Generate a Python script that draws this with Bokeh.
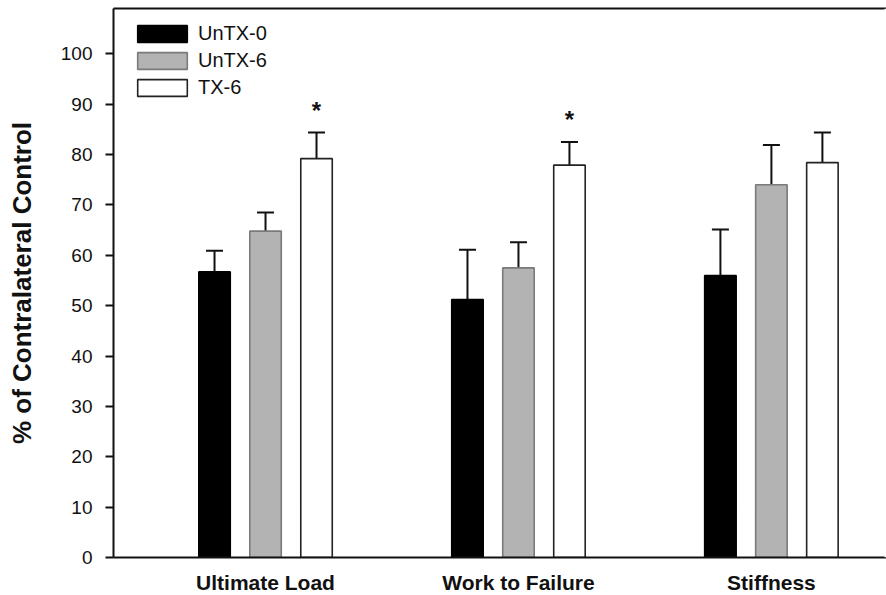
from bokeh.plotting import figure
from bokeh.models import (ColumnDataSource, FixedTicker, Range1d, Whisker, TeeHead,
                          Legend, LegendItem, LinearAxis, Span)
from bokeh.transform import dodge
from bokeh.core.properties import value
from bokeh.embed import file_html
from bokeh.resources import INLINE

# ---- data ----
categories = ["Ultimate Load", "Work to Failure", "Stiffness"]
groups = ["UnTX-0", "UnTX-6", "TX-6"]
untx0_mean = [56.7, 51.2, 56.0]
untx0_sd = [4.2, 9.9, 9.1]
untx6_mean = [64.8, 57.5, 74.0]
untx6_sd = [3.7, 5.1, 7.9]
tx6_mean = [79.2, 77.9, 78.4]
tx6_sd = [5.2, 4.6, 6.0]
tx6_star = ["*", "*", ""]
y_ticks = [0, 10, 20, 30, 40, 50, 60, 70, 80, 90, 100]

FONT = "Liberation Sans"
x_pos = [1, 2, 3]
X_END = 3.455

p = figure(width=886, height=595, output_backend="svg", toolbar_location=None,
           x_range=Range1d(0.399, X_END), y_range=Range1d(0, 109.0),
           min_border_left=113, min_border_right=0, min_border_top=8, min_border_bottom=38)
p.frame_width = 773
p.frame_height = 549
p.outline_line_color = None
p.grid.visible = False
p.background_fill_color = "white"
p.border_fill_color = "white"

series = [
    (untx0_mean, untx0_sd, -0.2016, "black", "black"),
    (untx6_mean, untx6_sd, 0.0, "#b3b3b3", "#7a7a7a"),
    (tx6_mean, tx6_sd, 0.2016, "white", "#222222"),
]

renderers = []
for (mean, sd, off, fill, line) in series:
    src = ColumnDataSource(dict(
        x=x_pos, mean=mean, top=[m + s for m, s in zip(mean, sd)]))
    w = Whisker(base=dodge("x", off, range=p.x_range), lower="mean", upper="top",
                source=src, dimension="height", line_width=2, line_color="#111111",
                lower_head=None,
                upper_head=TeeHead(size=17, line_width=2, line_color="#111111"))
    p.add_layout(w)
    r = p.vbar(x=dodge("x", off, range=p.x_range), top="mean", bottom=0, width=0.1245,
               source=src, fill_color=fill, line_color=line, line_width=1.6)
    renderers.append(r)

star_src = ColumnDataSource(dict(
    x=x_pos, y=[m + s for m, s in zip(tx6_mean, tx6_sd)], t=tx6_star))
p.text(x=dodge("x", 0.2016, range=p.x_range), y="y", text="t", source=star_src,
       text_font=value(FONT), text_font_style="bold", text_font_size="24px",
       text_align="center", text_baseline="alphabetic", y_offset=-22, text_color="#111111")

# top border line as a bare axis
top_axis = LinearAxis(ticker=FixedTicker(ticks=[]), axis_line_width=2, axis_line_color="#111111",
                      major_tick_line_color=None, minor_tick_line_color=None,
                      major_label_text_font_size="0px", major_label_standoff=0)
p.add_layout(top_axis, "above")

# hide the frame's right edge (the reference has no right border)
p.add_layout(Span(location=X_END, dimension="height", line_color="white",
                  line_width=4, level="overlay"))

# axes
yax = p.yaxis[0]
yax.ticker = FixedTicker(ticks=y_ticks)
yax.minor_tick_line_color = None
yax.major_tick_in = 0
yax.major_tick_out = 8
yax.major_tick_line_width = 2
yax.axis_line_width = 2
yax.axis_line_color = "#111111"
yax.major_tick_line_color = "#111111"
yax.major_label_text_font = FONT
yax.major_label_text_font_size = "19px"
yax.major_label_text_color = "#111111"
yax.major_label_standoff = 13
yax.axis_label = "% of Contralateral Control"
yax.axis_label_text_font = FONT
yax.axis_label_text_font_size = "26px"
yax.axis_label_text_font_style = "bold"
yax.axis_label_text_color = "#111111"
yax.axis_label_standoff = 21

xax = p.below[0]
xax.ticker = FixedTicker(ticks=x_pos)
xax.major_label_overrides = {i + 1: c for i, c in enumerate(categories)}
xax.major_tick_line_color = None
xax.minor_tick_line_color = None
xax.axis_line_width = 2
xax.axis_line_color = "#111111"
xax.major_label_text_font = FONT
xax.major_label_text_font_size = "21px"
xax.major_label_text_font_style = "bold"
xax.major_label_text_color = "#111111"
xax.major_label_standoff = 7

legend = Legend(items=[LegendItem(label=g, renderers=[r]) for g, r in zip(groups, renderers)],
                location=(18, 458))
legend.border_line_color = None
legend.background_fill_alpha = 0
legend.glyph_width = 62
legend.glyph_height = 21
legend.label_text_font = FONT
legend.label_text_font_size = "20px"
legend.label_text_color = "#111111"
legend.label_standoff = 5
legend.spacing = 4
legend.padding = 0
legend.margin = 0
p.add_layout(legend, "center")

open("out.html", "w").write(file_html(p, INLINE))
